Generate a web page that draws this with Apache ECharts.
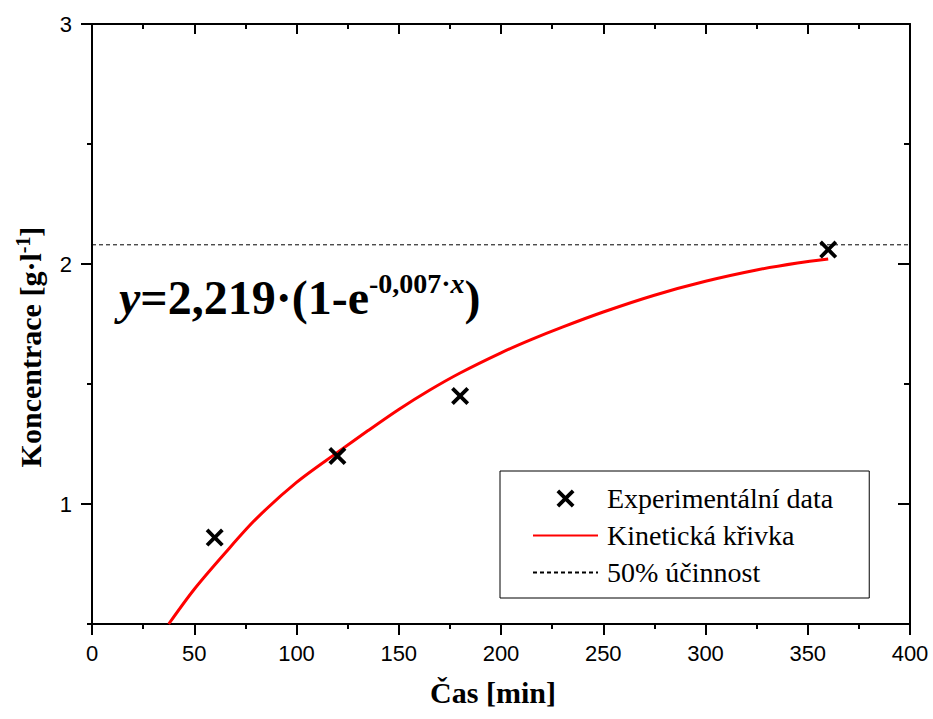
<!DOCTYPE html>
<html>
<head>
<meta charset="utf-8">
<script src="https://cdn.jsdelivr.net/npm/echarts@6/dist/echarts.min.js"></script>
<style>html,body{margin:0;padding:0;background:#fff;}#c{width:933px;height:719px;}</style>
</head>
<body>
<div id="c"></div>
<script>
// ---- data ----
const expTime = [60, 120, 180, 360];
const expConc = [0.86, 1.2, 1.45, 2.06];
const fitTime = [37.5, 50, 65, 80, 100, 120, 135, 150, 165, 180, 200, 215, 230, 250, 275, 300, 325, 345, 360];
const fitConc = [0.5, 0.645, 0.795, 0.936, 1.09, 1.215, 1.306, 1.394, 1.474, 1.546, 1.63, 1.686, 1.737, 1.8, 1.87, 1.928, 1.975, 2.004, 2.021];
const halfTime = [0, 400];
const halfConc = [2.08, 2.08];
const yMajorTicks = [1, 2, 3];
const yMinorTicks = [0.5, 1.5, 2.5];
const seriesNames = ['Experimentální data', 'Kinetická křivka', '50% účinnost'];

const serif = '"Liberation Serif", "Times New Roman", serif';
const sans = '"Liberation Sans", Arial, sans-serif';
const xMark = 'path://M0,3L3,0L10,7L17,0L20,3L13,10L20,17L17,20L10,13L3,20L0,17L7,10Z';

const chart = echarts.init(document.getElementById('c'), null, {renderer: 'svg'});

const axisLine = {show: true, lineStyle: {color: '#000', width: 2}};
const tickStyle = {color: '#000', width: 2};

const option = {
  backgroundColor: '#fff',
  animation: false,
  grid: {left: 92, right: 23, top: 24, bottom: 95, containLabel: false},
  xAxis: [
    {type: 'value', position: 'bottom', min: 0, max: 400, interval: 50,
     axisLine: axisLine, splitLine: {show: false},
     axisTick: {show: true, inside: false, length: 11, lineStyle: tickStyle},
     minorTick: {show: true, splitNumber: 2, length: 5, lineStyle: tickStyle},
     axisLabel: {color: '#000', fontFamily: sans, fontSize: 22, margin: 18}},
    {type: 'value', position: 'top', min: 0, max: 400, interval: 50,
     axisLine: axisLine, splitLine: {show: false},
     axisTick: {show: true, inside: true, length: 10, lineStyle: tickStyle},
     minorTick: {show: true, splitNumber: 2, length: 5, lineStyle: tickStyle},
     axisLabel: {show: false}}
  ],
  yAxis: [
    {type: 'value', position: 'left', min: 0.5, max: 3,
     axisLine: axisLine, splitLine: {show: false},
     axisTick: {show: true, inside: false, length: 11, lineStyle: tickStyle, customValues: yMajorTicks},
     axisLabel: {color: '#000', fontFamily: sans, fontSize: 22, margin: 20, customValues: yMajorTicks}},
    {type: 'value', position: 'left', min: 0.5, max: 3,
     axisLine: {show: false}, splitLine: {show: false},
     axisTick: {show: true, inside: false, length: 5, lineStyle: tickStyle, customValues: yMinorTicks},
     axisLabel: {show: false}},
    {type: 'value', position: 'right', min: 0.5, max: 3,
     axisLine: axisLine, splitLine: {show: false},
     axisTick: {show: true, inside: true, length: 12, lineStyle: tickStyle, customValues: yMajorTicks},
     axisLabel: {show: false}},
    {type: 'value', position: 'right', min: 0.5, max: 3,
     axisLine: {show: false}, splitLine: {show: false},
     axisTick: {show: true, inside: true, length: 6, lineStyle: tickStyle, customValues: yMinorTicks},
     axisLabel: {show: false}}
  ],
  legend: {
    orient: 'vertical', left: 500, top: 471,
    padding: [12, 36, 10, 32], itemGap: 6,
    itemWidth: 65, itemHeight: 18,
    borderColor: '#000', borderWidth: 1, backgroundColor: '#fff',
    data: [
      {name: seriesNames[0]},
      {name: seriesNames[1], itemStyle: {opacity: 0}},
      {name: seriesNames[2], itemStyle: {opacity: 0}}
    ],
    textStyle: {color: '#000', fontFamily: serif, fontSize: 28, lineHeight: 31, padding: [0, 0, 0, 4]}
  },
  series: [
    {name: seriesNames[0], type: 'scatter', z: 5,
     symbol: xMark, symbolSize: 18,
     itemStyle: {color: '#000', opacity: 1},
     data: expTime.map((t, i) => [t, expConc[i]])},
    {name: seriesNames[1], type: 'line', z: 3, smooth: 0.3, symbol: 'none', showSymbol: false,
     lineStyle: {color: '#ff0000', width: 3}, itemStyle: {color: '#ff0000'},
     data: fitTime.map((t, i) => [t, fitConc[i]])},
    {name: seriesNames[2], type: 'line', z: 2, symbol: 'none', showSymbol: false,
     lineStyle: {color: '#000', width: 1, type: [4, 3]}, itemStyle: {color: '#000'},
     data: halfTime.map((t, i) => [t, halfConc[i]])}
  ],
  graphic: [
    {type: 'text', left: 119, top: 269, z: 10,
     style: {
       text: '{i|y}{b|=2,219·(1-e}{s|-0,007·}{si|x}{b|)}',
       fill: '#000',
       rich: {
         i: {fontFamily: serif, fontStyle: 'italic', fontWeight: 'bold', fontSize: 48, lineHeight: 56},
         b: {fontFamily: serif, fontWeight: 'bold', fontSize: 48, lineHeight: 56},
         s: {fontFamily: serif, fontWeight: 'bold', fontSize: 28, lineHeight: 28, verticalAlign: 'top'},
         si: {fontFamily: serif, fontStyle: 'italic', fontWeight: 'bold', fontSize: 28, lineHeight: 28, verticalAlign: 'top'}
       }
     }},
    {type: 'text', x: 493, y: 692, z: 10,
     style: {text: 'Čas [min]', fill: '#000', fontFamily: serif, fontWeight: 'bold', fontSize: 30,
             align: 'center', verticalAlign: 'middle'}},
    {type: 'text', x: 30, y: 347, rotation: Math.PI / 2, z: 10,
     style: {
       text: '{b|Koncentrace [g·l}{s|-1}{b|]}',
       fill: '#000', align: 'center', verticalAlign: 'middle',
       rich: {
         b: {fontFamily: serif, fontWeight: 'bold', fontSize: 30, lineHeight: 34},
         s: {fontFamily: serif, fontWeight: 'bold', fontSize: 20, lineHeight: 20, verticalAlign: 'top'}
       }
     }}
  ]
};
chart.setOption(option);
</script>
</body>
</html>
